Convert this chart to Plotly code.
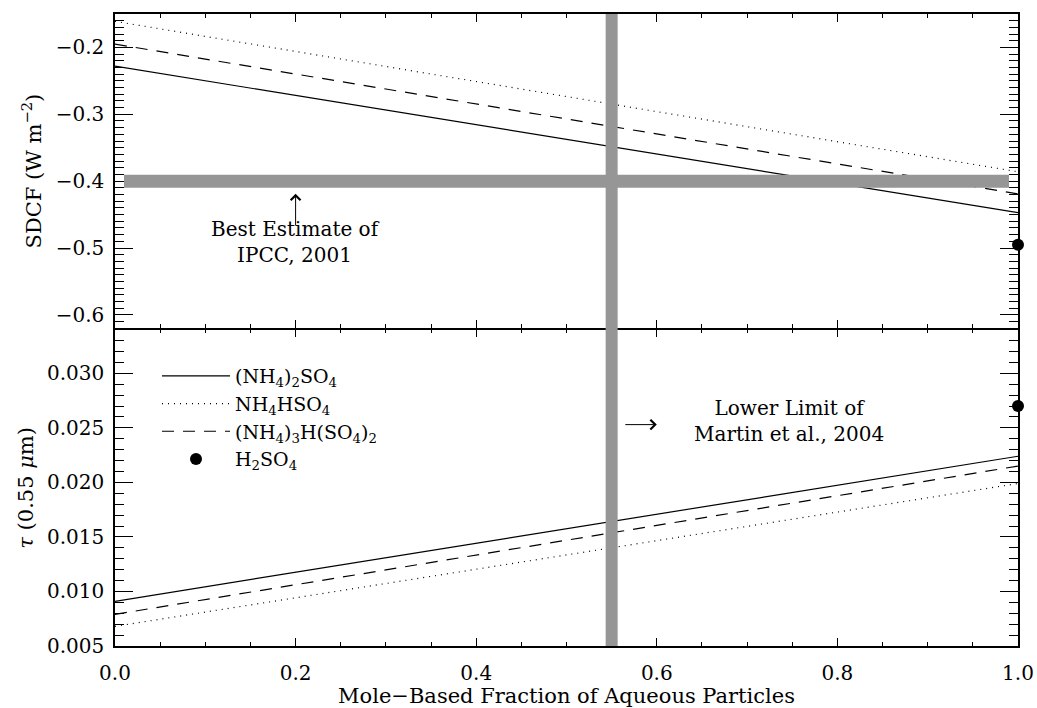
import plotly.graph_objects as go

# ---------------- data ----------------
mole_fraction = [0.0, 1.0]

sdcf_ammonium_sulfate = [-0.228, -0.447]
sdcf_ammonium_bisulfate = [-0.161, -0.386]
sdcf_letovicite = [-0.195, -0.419]
sdcf_sulfuric_acid = [-0.495]

tau_ammonium_sulfate = [0.0091, 0.0224]
tau_ammonium_bisulfate = [0.0068, 0.0199]
tau_letovicite = [0.0079, 0.0215]
tau_sulfuric_acid = [0.0270]

acid_fraction = [1.0]

ipcc_best_estimate = -0.40
ipcc_band_x = [0.01, 0.99]
martin_lower_limit = 0.55

series_names = [
    "(NH<sub>4</sub>)<sub>2</sub>SO<sub>4</sub>",
    "NH<sub>4</sub>HSO<sub>4</sub>",
    "(NH<sub>4</sub>)<sub>3</sub>H(SO<sub>4</sub>)<sub>2</sub>",
    "H<sub>2</sub>SO<sub>4</sub>",
]

x_ticks = [0.0, 0.2, 0.4, 0.6, 0.8, 1.0]
sdcf_ticks = [-0.6, -0.5, -0.4, -0.3, -0.2]
tau_ticks = [0.005, 0.010, 0.015, 0.020, 0.025, 0.030]

# ---------------- style ----------------
FONT = "DejaVu Serif"
GRAY = "#969696"
dashes = ["solid", "1px,5px", "12px,9px"]
LW = 1.5

fig = go.Figure()

top_series = [sdcf_ammonium_sulfate, sdcf_ammonium_bisulfate, sdcf_letovicite]
bot_series = [tau_ammonium_sulfate, tau_ammonium_bisulfate, tau_letovicite]

for i in range(3):
    fig.add_trace(go.Scatter(
        x=mole_fraction, y=top_series[i], mode="lines",
        line=dict(color="black", width=1.2, dash=dashes[i]),
        name=series_names[i], legendgroup=str(i), showlegend=False,
        xaxis="x", yaxis="y"))
    fig.add_trace(go.Scatter(
        x=mole_fraction, y=bot_series[i], mode="lines",
        line=dict(color="black", width=1.2, dash=dashes[i]),
        name=series_names[i], legendgroup=str(i), showlegend=True,
        xaxis="x2", yaxis="y2"))

fig.add_trace(go.Scatter(
    x=acid_fraction, y=sdcf_sulfuric_acid, mode="markers",
    marker=dict(color="black", size=12), cliponaxis=False,
    name=series_names[3], legendgroup="3", showlegend=False,
    xaxis="x", yaxis="y"))
fig.add_trace(go.Scatter(
    x=acid_fraction, y=tau_sulfuric_acid, mode="markers",
    marker=dict(color="black", size=12), cliponaxis=False,
    name=series_names[3], legendgroup="3", showlegend=True,
    xaxis="x2", yaxis="y2"))

# gray bands
fig.add_shape(type="line", xref="x", yref="y",
              x0=ipcc_band_x[0], x1=ipcc_band_x[1],
              y0=ipcc_best_estimate, y1=ipcc_best_estimate,
              line=dict(color=GRAY, width=13), layer="above")
fig.add_shape(type="line", xref="x", yref="paper",
              x0=martin_lower_limit, x1=martin_lower_limit, y0=0, y1=1,
              line=dict(color=GRAY, width=12), layer="above")

PLOT_H = 708 - 14 - 62
SPLIT = 0.5016
HALF = (LW / 2) / PLOT_H
axis_common = dict(showline=True, linecolor="black", linewidth=LW,
                   mirror="ticks", ticks="inside", tickcolor="black",
                   tickwidth=1, showgrid=False, zeroline=False, automargin=False,
                   tickfont=dict(family=FONT, size=20, color="black"))

fig.update_layout(
    width=1037, height=708, autosize=False,
    margin=dict(l=115, r=19, t=14, b=62, autoexpand=False),
    paper_bgcolor="white", plot_bgcolor="white",
    font=dict(family=FONT, size=20, color="black"),
    xaxis=dict(domain=[0, 1], anchor="y", range=[0, 1],
               tickvals=x_ticks, showticklabels=False, ticklen=8,
               minor=dict(dtick=0.05, ticklen=4, ticks="inside", tickcolor="black"),
               **axis_common),
    xaxis2=dict(domain=[0, 1], anchor="y2", range=[0, 1], matches="x",
                tickvals=x_ticks, tickformat=".1f", ticklen=8,
                ticklabelstandoff=8,
                minor=dict(dtick=0.05, ticklen=4, ticks="inside", tickcolor="black"),
                title=dict(text="Mole\u2212Based Fraction of Aqueous Particles",
                           font=dict(family=FONT, size=21), standoff=3),
                **axis_common),
    yaxis=dict(domain=[SPLIT + HALF, 1], anchor="x", range=[-0.62, -0.15],
               tickvals=sdcf_ticks, tickformat=".1f", ticklen=18,
               ticklabelstandoff=5,
               minor=dict(dtick=0.01, ticklen=9, ticks="inside", tickcolor="black"),
               title=dict(text="SDCF (W m<sup>\u22122</sup>)",
                          font=dict(family=FONT, size=21), standoff=8),
               **axis_common),
    yaxis2=dict(domain=[0, SPLIT - HALF], anchor="x2", range=[0.005, 0.034],
                tickvals=tau_ticks, tickformat=".3f", ticklen=18,
                ticklabelstandoff=5,
                minor=dict(dtick=0.001, ticklen=9, ticks="inside", tickcolor="black"),
                title=dict(text="<i>\u03c4</i> (0.55 <i>\u03bc</i>m)",
                           font=dict(family=FONT, size=21), standoff=8),
                **axis_common),
    legend=dict(x=(157 - 115) / 903, y=(646 - 357) / PLOT_H, xanchor="left", yanchor="top",
                bgcolor="rgba(0,0,0,0)", borderwidth=0, itemwidth=68,
                font=dict(family=FONT, size=19, color="black"), tracegroupgap=0),
    showlegend=True,
)

ann_font = dict(family=FONT, size=20, color="black")
# arrow pointing up to the IPCC band
fig.add_annotation(x=0.2, y=-0.419, xref="x", yref="y", text="",
                   showarrow=True, ax=0, ay=33, axref="pixel", ayref="pixel",
                   arrowhead=4, arrowsize=1.9, arrowwidth=1, arrowcolor="black")
fig.add_annotation(x=0.2, y=-0.4905, xref="x", yref="y",
                   text="Best Estimate of<br>IPCC, 2001", showarrow=False,
                   font=ann_font, align="center")
# arrow pointing right from the Martin band label
fig.add_annotation(x=0.600, y=0.0253, xref="x2", yref="y2", text="",
                   showarrow=True, ax=-33, ay=0, axref="pixel", ayref="pixel",
                   arrowhead=4, arrowsize=1.9, arrowwidth=1, arrowcolor="black")
fig.add_annotation(x=0.746, y=0.0256, xref="x2", yref="y2",
                   text="Lower Limit of<br>Martin et al., 2004", showarrow=False,
                   font=ann_font, align="center")

fig.write_html("out.html", config={"displayModeBar": False},
               post_script="document.body.style.margin='0';document.body.style.overflow='hidden';")
